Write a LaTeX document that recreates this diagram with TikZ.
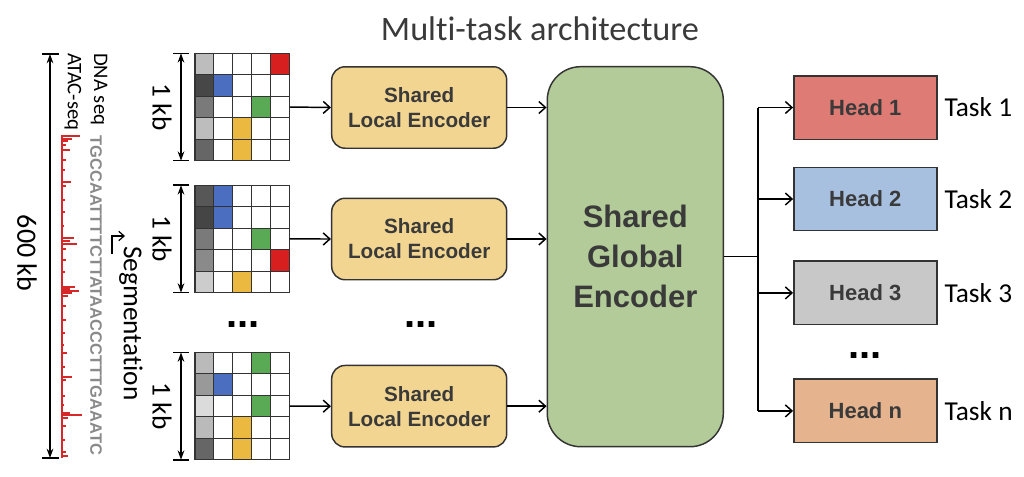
\documentclass[tikz,border=0pt]{standalone}
\usepackage{fontspec}
\setmainfont{Carlito}[Ligatures={NoCommon}]
\newfontfamily\lsans{Liberation Sans}
\usetikzlibrary{arrows.meta}
\definecolor{edge}{HTML}{333333}
\definecolor{boxtxt}{HTML}{3A3A3A}
\definecolor{encfill}{HTML}{F2D590}
\definecolor{glbfill}{HTML}{B3CB98}
\definecolor{h1fill}{HTML}{DE7B74}
\definecolor{h2fill}{HTML}{A7C0E0}
\definecolor{h3fill}{HTML}{C8C8C8}
\definecolor{hnfill}{HTML}{E5B48F}
\definecolor{cred}{HTML}{D81F1F}
\definecolor{cblue}{HTML}{4B6EC0}
\definecolor{cgreen}{HTML}{5AAA55}
\definecolor{corange}{HTML}{EBB840}
\definecolor{atac}{HTML}{D62828}
\definecolor{seqgray}{HTML}{8A8A8A}
\newcommand{\mygrid}[3]{%
  \foreach \r/\col in {#2}
    \fill[\col] (195,{#1+(\r-1)*21.48}) rectangle +(18.86,21.48);
  \foreach \r/\c/\col in {#3}
    \fill[\col] ({195+(\c-1)*18.86},{#1+(\r-1)*21.48}) rectangle +(18.86,21.48);
  \foreach \i in {0,...,5} {
    \draw[gl] ({195+\i*18.86},#1) -- ++(0,107.4);
    \draw[gl] (195,{#1+\i*21.48}) -- ++(94.3,0);
  }
  \draw[tick] (173,#1) -- (189,#1);
  \draw[tick] (173,#1+107.4) -- (189,#1+107.4);
  \draw[dim] (181,#1) -- (181,#1+107.4);
  \node[rlabel,font=\fontsize{20.5}{24}\selectfont] at (162,#1+53.7) {1 kb};
}
\begin{document}
\begin{tikzpicture}[x=0.75pt,y=-0.75pt,
  enc/.style={draw=edge,line width=1.1pt,rounded corners=10pt,fill=encfill,
    minimum width=131.25pt,minimum height=61.1pt,align=center,text=boxtxt,
    font=\lsans\bfseries\fontsize{15.5}{18.75}\selectfont},
  glb/.style={draw=edge,line width=1.1pt,rounded corners=25pt,fill=glbfill,
    minimum width=132pt,minimum height=285pt,align=center,text=boxtxt,
    font=\lsans\bfseries\fontsize{23.25}{30}\selectfont},
  head/.style={draw=edge,line width=1.1pt,minimum width=107.25pt,minimum height=47.6pt,
    text=boxtxt,font=\lsans\bfseries\fontsize{16.5}{19}\selectfont},
  task/.style={anchor=west,font=\fontsize{20.5}{24}\selectfont},
  conn/.style={draw=black,line width=1.1pt,-{Straight Barb[length=5pt,width=9pt]}},
  plain/.style={draw=black,line width=1.1pt},
  dim/.style={draw=black,line width=1.1pt,{Stealth[length=7pt,width=5pt]}-{Stealth[length=7pt,width=5pt]}},
  tick/.style={draw=black,line width=1.1pt},
  gl/.style={draw=edge,line width=0.8pt},
  grid box/.style={minimum width=70.7pt,minimum height=80.55pt,inner sep=0pt},
  dots/.style={font=\lsans\bfseries\fontsize{30}{30}\selectfont,anchor=base},
  rlabel/.style={rotate=-90,inner sep=0pt}
]
\useasboundingbox (0,0) rectangle (1024,476);

% title
\node[anchor=base,text=boxtxt,font=\fontsize{25.7}{30}\selectfont] (title) at (540,40) {Multi-task architecture};

% 600 kb dimension
\draw[tick] (42,54) -- (59,54);
\draw[tick] (42,458) -- (59,458);
\coordinate (L1) at (50,54);
\coordinate (L2) at (50,458);
\draw[dim] (L1) -- (L2);
\node[rlabel,font=\fontsize{21}{24}\selectfont] (len) at (27,253) {600 kb};

% track labels
\node[rlabel,anchor=west,font=\fontsize{15.5}{18}\selectfont] (atacl) at (73,53) {ATAC-seq};
\node[rlabel,anchor=west,font=\fontsize{15.5}{18}\selectfont] (dnal) at (99,53) {DNA seq};

% ATAC signal
\draw[atac,line width=0.8pt] (62,135) -- (62,458);
\foreach \yy/\xx in {136/80,139/72,141/68,145/66,150/70,160/66,170/65,182/71,186/66,200/65,212/65,
  226/64,238/74,241/70,244/77,249/66,260/66,272/65,287/75,289/70,291/79,293/72,296/68,306/66,
  320/66,333/65,345/64,353/67,367/65,377/72,380/66,396/65,405/64,413/70,415/82,418/68,426/66,
  440/65,452/66,456/68}
  \draw[atac,line width=0.8pt] (62,\yy) -- (\xx,\yy);

% DNA sequence
\node[rlabel,anchor=west,text=seqgray,font=\lsans\bfseries\fontsize{12.4}{14}\selectfont] (seq) at (96,135) {TGCCAATTTTCTTATAACCCTTTGAAATC};

% segmentation
\coordinate (sg0) at (112,254);
\coordinate (sg1) at (112,236);
\coordinate (sg2) at (125,236);
\draw[draw=black,line width=0.9pt,-{Straight Barb[length=4pt,width=7pt]}] (sg0) -- (sg1) -- (sg2);
\node[rlabel,anchor=west,font=\fontsize{20.5}{24}\selectfont] (segl) at (131,246) {Segmentation};

% grids
\mygrid{53.3}{1/{black!26},2/{black!72},3/{black!52},4/{black!26},5/{black!60}}
  {1/5/cred,2/2/cblue,3/4/cgreen,4/3/corange,5/3/corange}
\mygrid{185.2}{1/{black!66},2/{black!73},3/{black!52},4/{black!46},5/{black!20}}
  {1/2/cblue,2/2/cblue,3/4/cgreen,4/5/cred,5/3/corange}
\mygrid{352.4}{1/{black!27},2/{black!40},3/{black!14},4/{black!27},5/{black!60}}
  {1/4/cgreen,2/2/cblue,3/4/cgreen,4/3/corange,5/3/corange}

\node[grid box] (g1) at (242.15,107) {};
\node[grid box] (g2) at (242.15,238.9) {};
\node[grid box] (g3) at (242.15,406.1) {};

% local encoders
\node[enc] (e1) at (419.2,107.5) {Shared\\Local Encoder};
\node[enc] (e2) at (419.2,239) {Shared\\Local Encoder};
\node[enc] (e3) at (419.2,406.2) {Shared\\Local Encoder};

% global encoder
\node[glb] (ge) at (635.3,256.7) {Shared\\Global\\Encoder};

% heads
\node[head,fill=h1fill] (h1) at (865.3,107.5) {Head 1};
\node[head,fill=h2fill] (h2) at (865.3,199) {Head 2};
\node[head,fill=h3fill] (h3) at (865.3,292.9) {Head 3};
\node[head,fill=hnfill] (hn) at (865.3,410.9) {Head n};

\node[task] (t1) at (940,107.5) {Task 1};
\node[task] (t2) at (940,199) {Task 2};
\node[task] (t3) at (940,292.9) {Task 3};
\node[task] (tn) at (940,410.9) {Task n};

% dots
\node[dots] (d1) at (243,327) {...};
\node[dots] (d2) at (421,327) {...};
\node[dots] (d3) at (865,358) {...};

% connectors
\draw[conn] (g1.east) -- (e1.west);
\draw[conn] (g2.east) -- (e2.west);
\draw[conn] (g3.east) -- (e3.west);
\draw[conn] (e1.east) -- (e1.east -| ge.west);
\draw[conn] (e2.east) -- (e2.east -| ge.west);
\draw[conn] (e3.east) -- (e3.east -| ge.west);
\coordinate (br) at (758,256.7);
\draw[plain] (ge.east) -- (br);
\draw[plain] (758,107.5) -- (758,410.9);
\draw[conn] (h1.west -| br) -- (h1.west);
\draw[conn] (h2.west -| br) -- (h2.west);
\draw[conn] (h3.west -| br) -- (h3.west);
\draw[conn] (hn.west -| br) -- (hn.west);
\end{tikzpicture}
\end{document}
